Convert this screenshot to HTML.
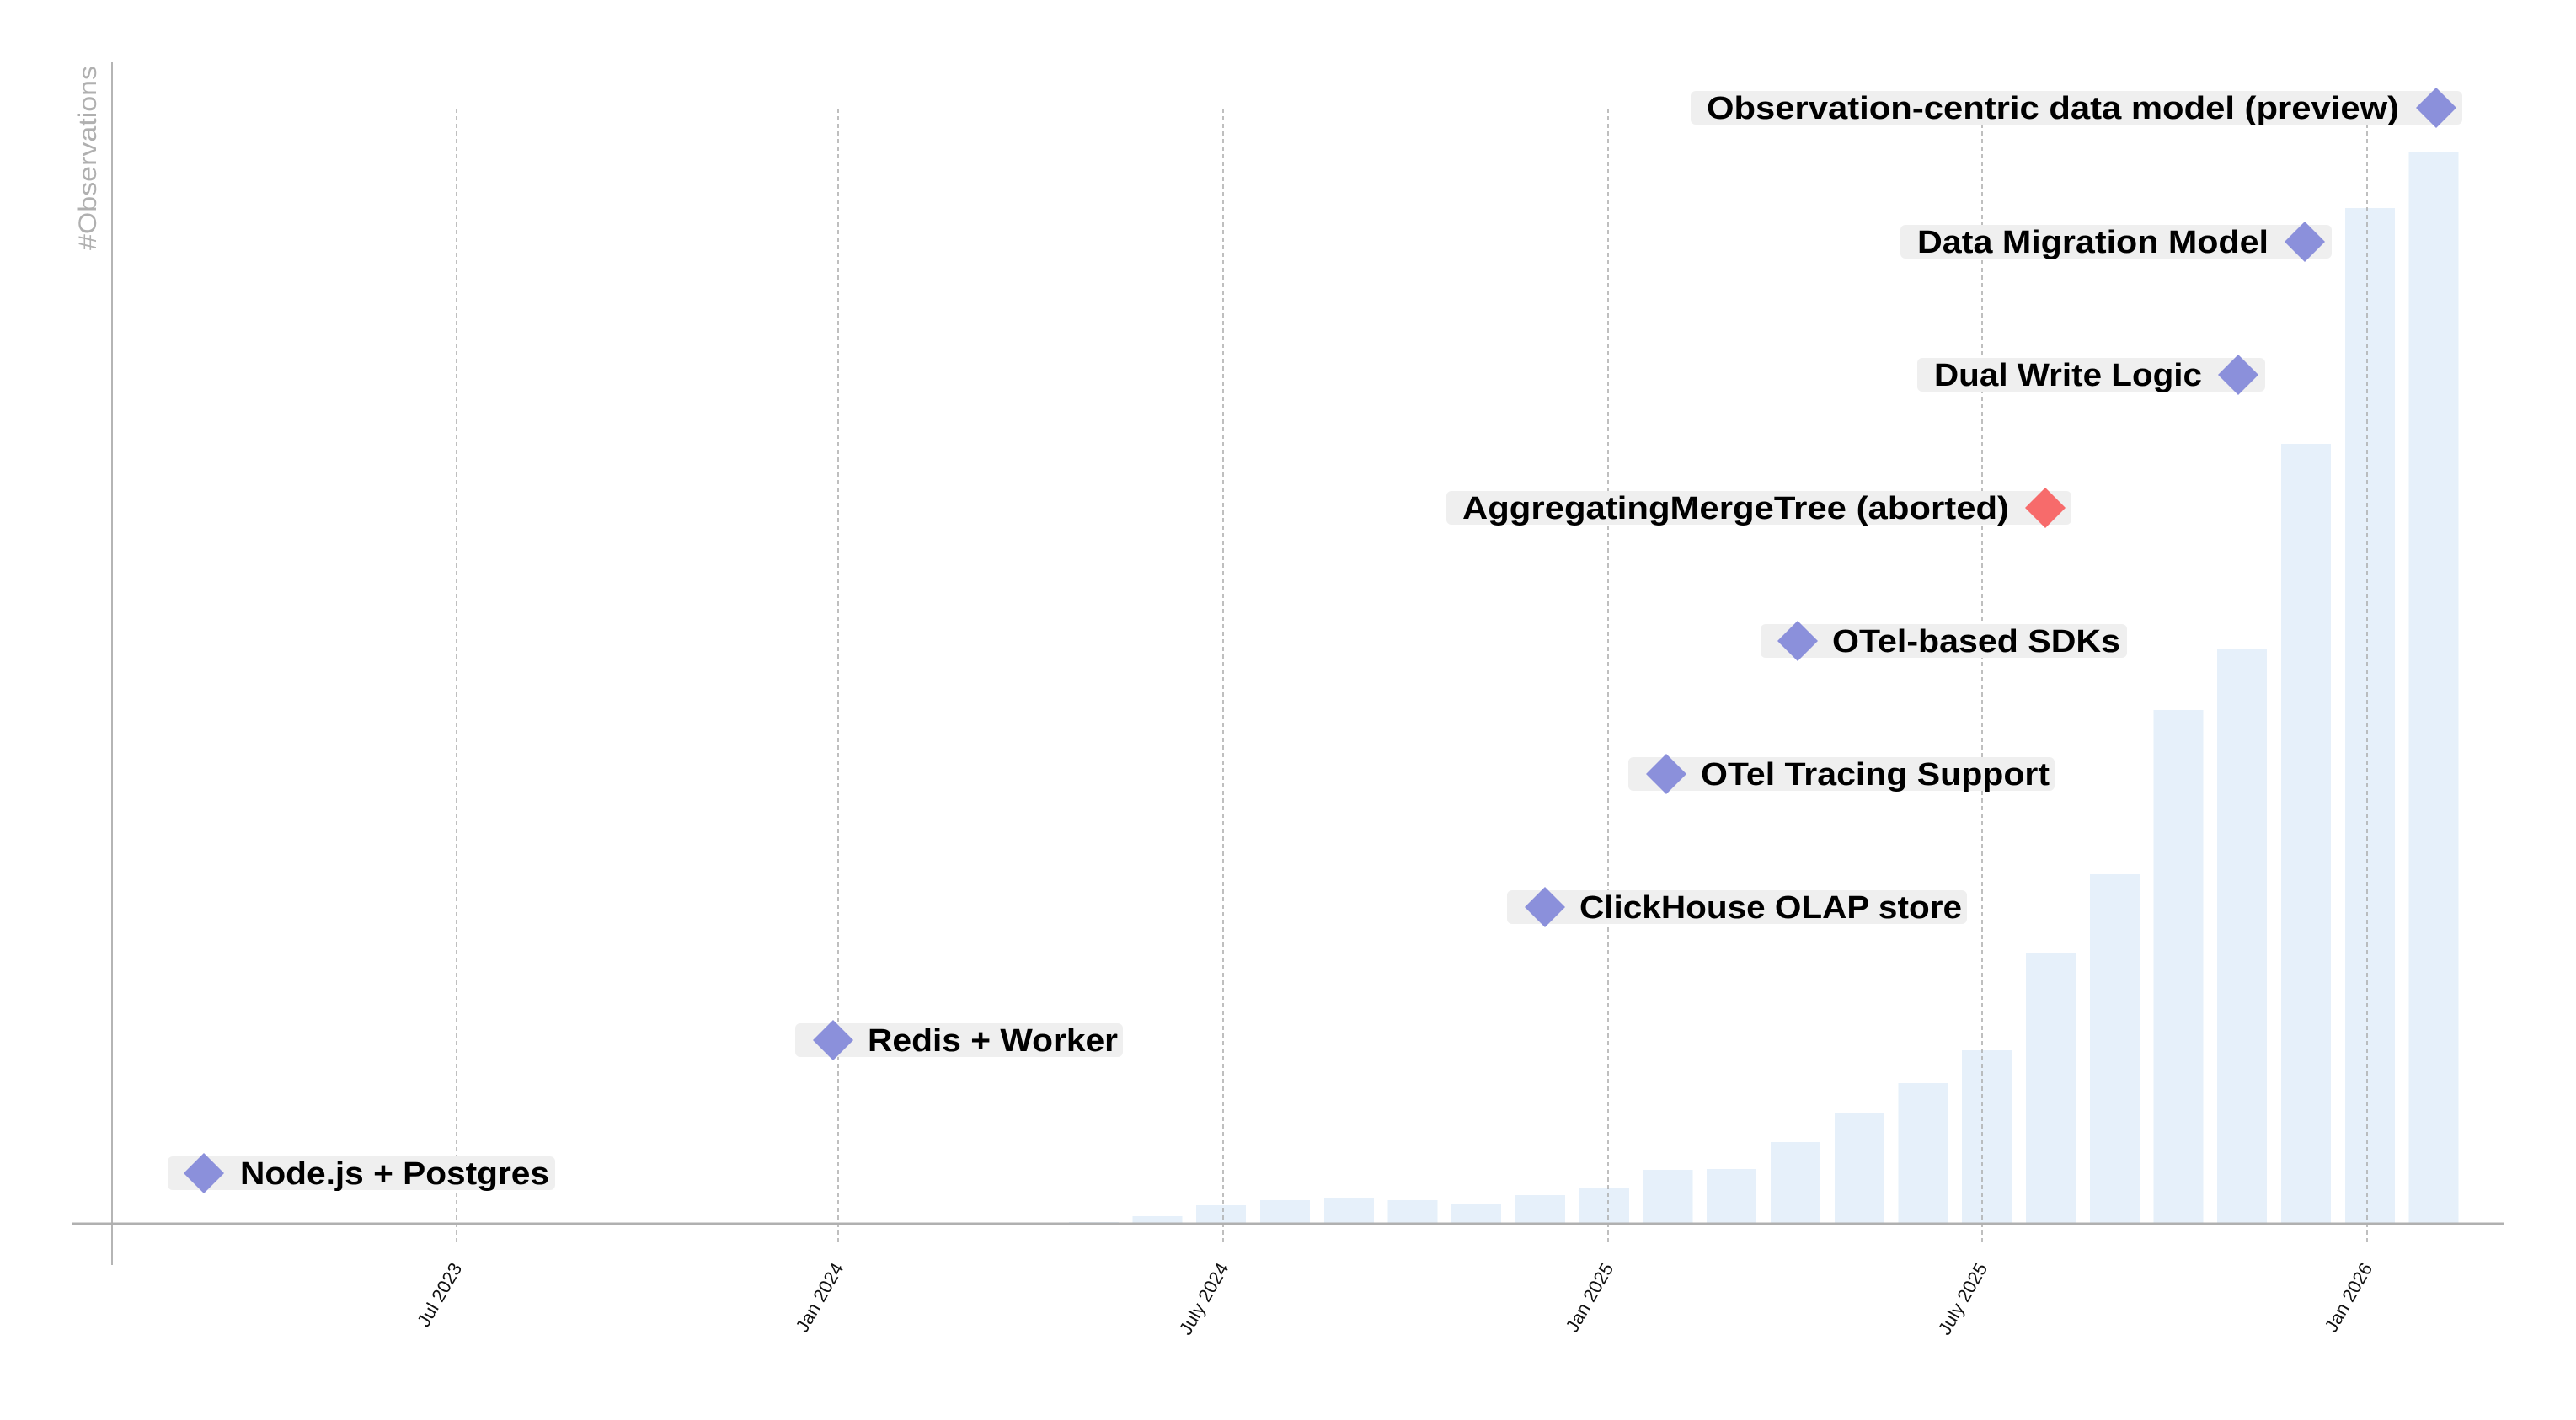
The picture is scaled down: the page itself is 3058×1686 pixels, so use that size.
<!DOCTYPE html>
<html><head><meta charset="utf-8"><style>html,body{margin:0;padding:0;background:#fff}svg{display:block}</style></head>
<body>
<svg width="3058" height="1686" viewBox="0 0 3058 1686" xmlns="http://www.w3.org/2000/svg" font-family="Liberation Sans, sans-serif">
<g fill="#e6f0fa">
<rect x="1269" y="1451" width="59" height="2"/>
<rect x="1344.5" y="1444" width="59" height="9"/>
<rect x="1420" y="1431" width="59" height="22"/>
<rect x="1496" y="1425" width="59" height="28"/>
<rect x="1572" y="1423" width="59" height="30"/>
<rect x="1647.5" y="1425" width="59" height="28"/>
<rect x="1723" y="1429" width="59" height="24"/>
<rect x="1799" y="1419" width="59" height="34"/>
<rect x="1875" y="1410" width="59" height="43"/>
<rect x="1950.5" y="1389" width="59" height="64"/>
<rect x="2026" y="1388" width="59" height="65"/>
<rect x="2102" y="1356" width="59" height="97"/>
<rect x="2178" y="1321" width="59" height="132"/>
<rect x="2253.5" y="1286" width="59" height="167"/>
<rect x="2329" y="1247" width="59" height="206"/>
<rect x="2405" y="1132" width="59" height="321"/>
<rect x="2481" y="1038" width="59" height="415"/>
<rect x="2556.5" y="843" width="59" height="610"/>
<rect x="2632" y="771" width="59" height="682"/>
<rect x="2708" y="527" width="59" height="926"/>
<rect x="2784" y="247" width="59" height="1206"/>
<rect x="2859.5" y="181" width="59" height="1272"/>
</g>
<g stroke="#aaa" stroke-width="1.5" stroke-dasharray="5,4">
<line x1="542" y1="129" x2="542" y2="1479"/>
<line x1="995" y1="129" x2="995" y2="1479"/>
<line x1="1452" y1="129" x2="1452" y2="1479"/>
<line x1="1909" y1="129" x2="1909" y2="1479"/>
<line x1="2353" y1="129" x2="2353" y2="1479"/>
<line x1="2810" y1="129" x2="2810" y2="1479"/>
</g>
<line x1="133" y1="74" x2="133" y2="1502" stroke="#b5b5b5" stroke-width="2"/>
<line x1="86" y1="1453" x2="2973" y2="1453" stroke="#b0b0b0" stroke-width="3"/>
<text transform="translate(114,297) rotate(-90)" font-size="30" fill="#b0b0b0" textLength="219" lengthAdjust="spacingAndGlyphs">#Observations</text>
<g font-size="22" fill="#111" text-anchor="end">
<text transform="translate(549,1505) rotate(-60)">Jul 2023</text>
<text transform="translate(1002,1505) rotate(-60)">Jan 2024</text>
<text transform="translate(1459,1505) rotate(-60)">July 2024</text>
<text transform="translate(1916,1505) rotate(-60)">Jan 2025</text>
<text transform="translate(2360,1505) rotate(-60)">July 2025</text>
<text transform="translate(2817,1505) rotate(-60)">Jan 2026</text>
</g>
<g font-size="38" font-weight="bold" fill="#000">
<rect x="199" y="1373" width="460" height="40" rx="6" fill="#efefef"/>
<text x="285" y="1406" textLength="367" lengthAdjust="spacingAndGlyphs">Node.js + Postgres</text>
<rect x="944" y="1215" width="389" height="40" rx="6" fill="#efefef"/>
<text x="1030" y="1248" textLength="297" lengthAdjust="spacingAndGlyphs">Redis + Worker</text>
<rect x="1789" y="1057" width="546" height="40" rx="6" fill="#efefef"/>
<text x="1875" y="1090" textLength="454" lengthAdjust="spacingAndGlyphs">ClickHouse OLAP store</text>
<rect x="1933" y="899" width="506" height="40" rx="6" fill="#efefef"/>
<text x="2019" y="932" textLength="414" lengthAdjust="spacingAndGlyphs">OTel Tracing Support</text>
<rect x="2090" y="741" width="435" height="40" rx="6" fill="#efefef"/>
<text x="2175" y="774" textLength="342" lengthAdjust="spacingAndGlyphs">OTel-based SDKs</text>
<rect x="1717" y="583" width="742" height="40" rx="6" fill="#efefef"/>
<text x="1736" y="616" textLength="649" lengthAdjust="spacingAndGlyphs">AggregatingMergeTree (aborted)</text>
<rect x="2276" y="425" width="413" height="40" rx="6" fill="#efefef"/>
<text x="2296" y="458" textLength="318" lengthAdjust="spacingAndGlyphs">Dual Write Logic</text>
<rect x="2256" y="267" width="512" height="40" rx="6" fill="#efefef"/>
<text x="2276" y="300" textLength="417" lengthAdjust="spacingAndGlyphs">Data Migration Model</text>
<rect x="2007" y="108" width="916" height="40" rx="6" fill="#efefef"/>
<text x="2026" y="141" textLength="822" lengthAdjust="spacingAndGlyphs">Observation-centric data model (preview)</text>
</g>
<g fill="#8b90db">
<path d="M242 1369 L266 1393 L242 1417 L218 1393Z"/>
<path d="M989 1211 L1013 1235 L989 1259 L965 1235Z"/>
<path d="M1834 1053 L1858 1077 L1834 1101 L1810 1077Z"/>
<path d="M1978 895 L2002 919 L1978 943 L1954 919Z"/>
<path d="M2134 737 L2158 761 L2134 785 L2110 761Z"/>
<path d="M2657 421 L2681 445 L2657 469 L2633 445Z"/>
<path d="M2736 263 L2760 287 L2736 311 L2712 287Z"/>
<path d="M2892 104 L2916 128 L2892 152 L2868 128Z"/>
</g>
<path d="M2428 579 L2452 603 L2428 627 L2404 603Z" fill="#f76b6b"/>
</svg>
</body></html>
